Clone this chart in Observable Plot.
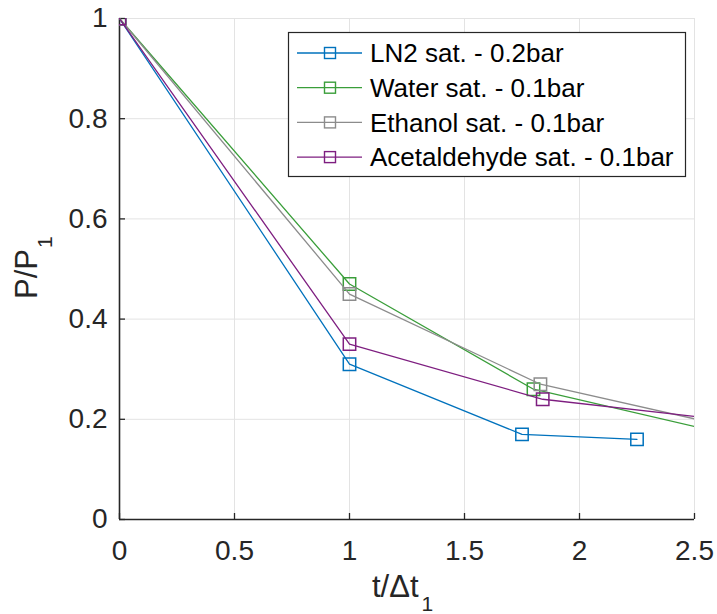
<!DOCTYPE html>
<html>
<head>
<meta charset="utf-8">
<script src="https://cdn.jsdelivr.net/npm/d3@7"></script>
<script src="https://cdn.jsdelivr.net/npm/@observablehq/plot@0.6"></script>
<style>
  html, body { margin: 0; padding: 0; background: #fff; }
  #chart svg { display: block; }
</style>
</head>
<body>
<div id="chart"></div>
<script>
// ---- Data ----
const seriesNames = ["LN2 sat. - 0.2bar", "Water sat. - 0.1bar", "Ethanol sat. - 0.1bar", "Acetaldehyde sat. - 0.1bar"];
const seriesColors = ["#0072bd", "#3a9e3a", "#8c8c8c", "#7e1e80"];
const ln2T = [0, 1, 1.75, 2.25];
const ln2P = [1, 0.31, 0.17, 0.16];
const waterT = [0, 1, 1.8, 2.8];
const waterP = [1, 0.47, 0.26, 0.154];
const ethanolT = [0, 1, 1.83, 2.8];
const ethanolP = [1, 0.45, 0.27, 0.17];
const acetT = [0, 1, 1.84, 2.8];
const acetP = [1, 0.35, 0.24, 0.19];
const xTicks = [0, 0.5, 1, 1.5, 2, 2.5];
const yTicks = [0, 0.2, 0.4, 0.6, 0.8, 1];
const xDomain = [0, 2.5];
const yDomain = [0, 1];
const yLabelMain = "P/P", yLabelSub = "1";
const xLabelMain = "t/Δt", xLabelSub = "1";

const seriesT = [ln2T, waterT, ethanolT, acetT];
const seriesP = [ln2P, waterP, ethanolP, acetP];
const rows = [];
seriesNames.forEach((name, i) => {
  seriesT[i].forEach((t, j) => rows.push({series: name, t, p: seriesP[i][j]}));
});

const FONT = "'Liberation Sans', Arial, Helvetica, sans-serif";
const AX = "#262626";

const marks = [
  Plot.gridX(xTicks, {stroke: "#e3e3e3", strokeOpacity: 1, strokeWidth: 1}),
  Plot.gridY(yTicks, {stroke: "#e3e3e3", strokeOpacity: 1, strokeWidth: 1}),
  Plot.axisX(xTicks, {tickSize: 0, tickPadding: 21, tickFormat: d => String(d), fontSize: 28, fill: AX, label: null}),
  Plot.axisY(yTicks, {tickSize: 0, tickPadding: 12, tickFormat: d => String(d), fontSize: 28, fill: AX, label: null}),
  Plot.tickX(xTicks, {x: d => d, stroke: AX, strokeWidth: 1.3, insetTop: 495}),
  Plot.tickY(yTicks, {y: d => d, stroke: AX, strokeWidth: 1.3, insetRight: 569}),
  Plot.ruleX([0], {stroke: AX, strokeWidth: 1.6}),
  Plot.ruleY([0], {stroke: AX, strokeWidth: 1.6})
];
seriesNames.forEach(name => {
  const d = rows.filter(r => r.series === name);
  marks.push(Plot.line(d, {x: "t", y: "p", stroke: "series", strokeWidth: 1.3, clip: true}));
  marks.push(Plot.dot(d.filter(r => r.t <= xDomain[1]), {x: "t", y: "p", stroke: "series", symbol: "square", r: 7, fill: "none", strokeWidth: 1.5, clip: true}));
});

const chart = Plot.plot({
  width: 717,
  height: 614,
  marginLeft: 119,
  marginRight: 23,
  marginTop: 18,
  marginBottom: 95,
  style: {fontFamily: FONT, background: "#fff", overflow: "visible"},
  x: {domain: xDomain},
  y: {domain: yDomain},
  color: {domain: seriesNames, range: seriesColors},
  marks
});
document.getElementById("chart").appendChild(chart);

const svg = d3.select(chart);

// ---- Axis labels with subscripts ----
const yl = svg.append("text").attr("font-family", FONT).attr("fill", AX).attr("font-size", 31)
  .attr("text-anchor", "start").attr("transform", "translate(37,299) rotate(-90)");
yl.append("tspan").text(yLabelMain);
yl.append("tspan").attr("font-size", 21).attr("dy", 15).attr("dx", 1).text(yLabelSub);

const xl = svg.append("text").attr("font-family", FONT).attr("fill", AX).attr("font-size", 31)
  .attr("text-anchor", "start").attr("x", 372).attr("y", 597);
xl.append("tspan").text(xLabelMain);
xl.append("tspan").attr("font-size", 21).attr("dy", 14).attr("dx", 3).text(xLabelSub);

// ---- Legend (inside plot, top-right) ----
const lg = svg.append("g").attr("font-family", FONT).attr("text-anchor", "start");
const bx = 288, by = 32, bw = 397, bh = 144, rowStep = 34.7, row0 = 53;
lg.append("rect").attr("x", bx + 0.5).attr("y", by + 0.5).attr("width", bw).attr("height", bh)
  .attr("fill", "#fff").attr("stroke", AX).attr("stroke-width", 1.2);
seriesNames.forEach((name, i) => {
  const yy = row0 + i * rowStep;
  lg.append("line").attr("x1", 297).attr("x2", 362).attr("y1", yy).attr("y2", yy)
    .attr("stroke", seriesColors[i]).attr("stroke-width", 1.3);
  lg.append("rect").attr("x", 330 - 5.5).attr("y", yy - 5.5).attr("width", 11).attr("height", 11)
    .attr("fill", "none").attr("stroke", seriesColors[i]).attr("stroke-width", 1.4);
  lg.append("text").attr("x", 370).attr("y", yy).attr("dy", "0.35em").attr("font-size", 26)
    .attr("text-anchor", "start").attr("fill", "#000").text(name);
});
</script>
</body>
</html>
